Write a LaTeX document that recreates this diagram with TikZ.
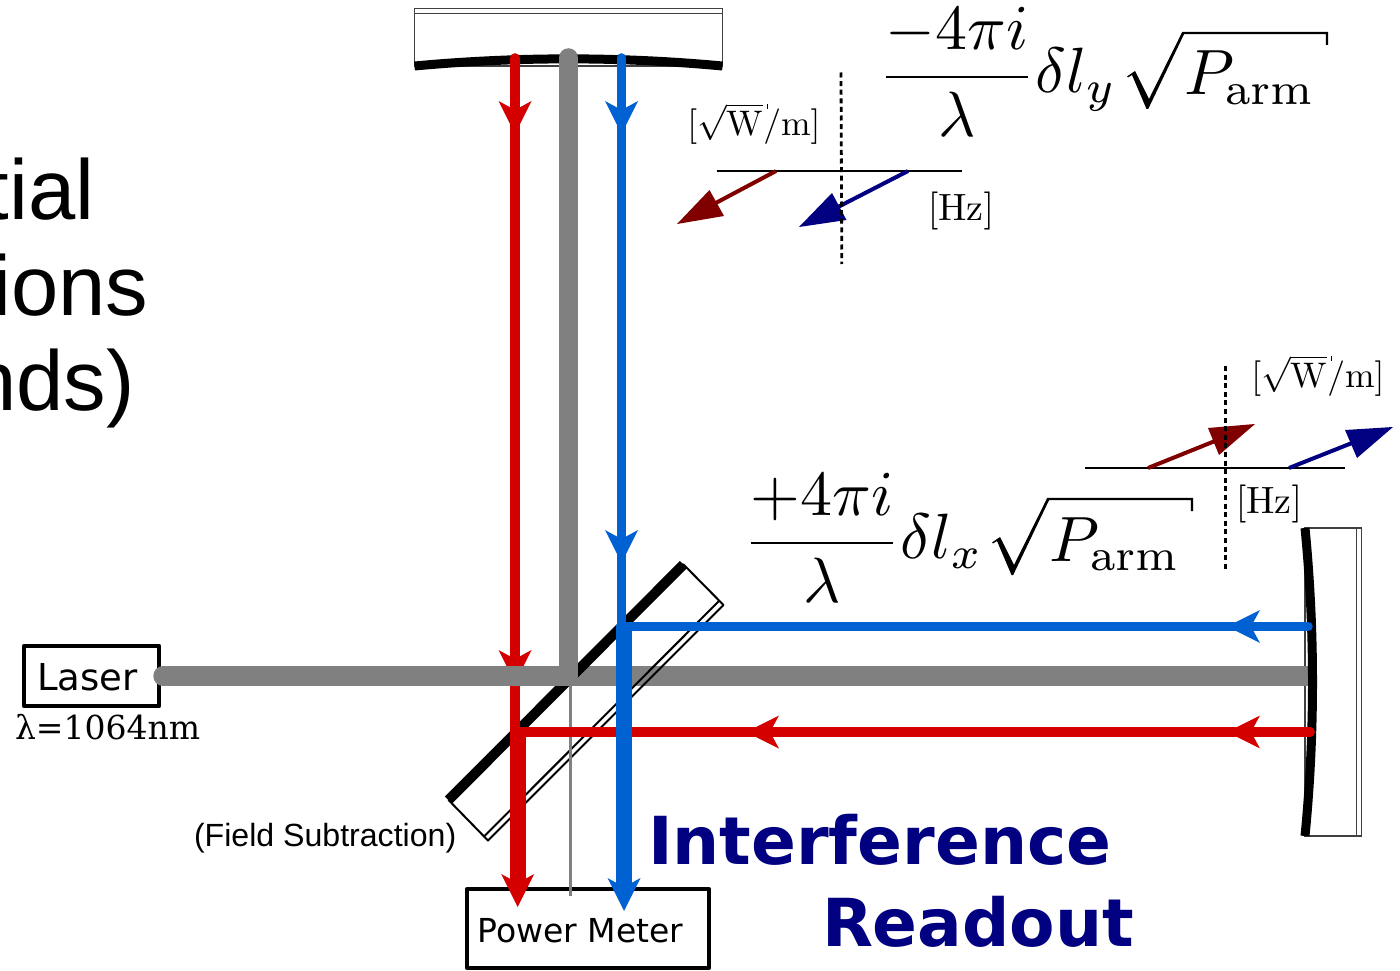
\documentclass[tikz,border=0pt]{standalone}
\usepackage{fontspec}
\usepackage{amsmath}
\newfontfamily\dejavu{DejaVu Sans}
\newfontfamily\dejaserif{DejaVu Serif}
\newfontfamily\libsans{Liberation Sans}
\definecolor{beamred}{HTML}{D40000}
\definecolor{beamblue}{HTML}{0062D2}
\definecolor{beamgray}{HTML}{808080}
\definecolor{darkred}{HTML}{800000}
\definecolor{darkblue}{HTML}{000080}
\newcommand{\ahead}[4]{\fill[#4,shift={(#1,#2)},rotate=#3] (0,0)--(-33,16.5)--(-24,0)--(-33,-16.5)--cycle;}
% radical sign with its overbar, hand drawn to the shape of the reference
\newcommand{\rootsign}[2]{\fill[black,shift={(#1,#2)}] (1127,76.5) -- (1135,71) -- (1149,99) -- (1182.3,31.8) -- (1328,31.8) -- (1328,45) -- (1325.8,45) -- (1325.8,34.2) -- (1184,34.2) -- (1148.2,109) -- (1146.5,109) -- (1132,75) -- (1128,77.5) -- cycle;}
\tikzset{
  txt/.style={inner sep=0pt,outer sep=0pt},
  bigtext/.style={txt,anchor=base east,font=\libsans\fontsize{85}{96}\selectfont},
  mathf/.style={txt,anchor=west,scale=6.4},
  matha/.style={txt,anchor=base west,scale=6.4},
  unitl/.style={txt,scale=3.55},
  hzl/.style={txt,scale=3.8},
  glassl/.style={draw=black!75,line width=1.4pt,fill=white},
  mirrorl/.style={draw=black,line width=9pt,line cap=butt},
  beam/.style={line width=9.6pt,line cap=round,line join=round},
  fatbeam/.style={line width=16pt,line cap=round},
  axisl/.style={draw=black,line width=1.3pt},
  dotl/.style={draw=black,line width=2.8pt,dash pattern=on 5pt off 3.6pt},
  boxn/.style={draw=black,fill=white,inner sep=0pt,line join=round},
  bluetext/.style={txt,anchor=base west,text=darkblue,font=\dejavu\bfseries\fontsize{66.2}{70}\selectfont},
}
\begin{document}
\begin{tikzpicture}[x=1pt,y=-1pt]
\useasboundingbox (0,0) rectangle (1400,971);
% background text
\node[bigtext] (t1) at (94.5,219) {tial};
\node[bigtext] (t2) at (148.5,315) {ions};
\node[bigtext] (t3) at (134.5,410) {nds)};
% top mirror
\draw[glassl] (414.5,8.5) rectangle (722.5,66);
\draw[glassl] (414.5,13.7) -- (722.5,13.7);
\draw[mirrorl] (414.5,66) .. controls (517,56.5) and (620,56.5) .. (722.5,66);
% end mirror
\draw[glassl] (1305,528) rectangle (1361.5,836);
\draw[glassl] (1356.7,528) -- (1356.7,836);
% named beam points
\coordinate (mirT-r) at (515,58);
\coordinate (mirT-g) at (568.5,58);
\coordinate (mirT-b) at (621.5,58);
\coordinate (bs-r) at (515,732);
\coordinate (bs-b) at (621.5,626.5);
\coordinate (bs-g) at (568.5,676);
\coordinate (mirE-r) at (1310,732);
\coordinate (mirE-g) at (1311,676);
\coordinate (mirE-b) at (1308,626.5);
\coordinate (las) at (163,676);
% beam splitter: gray arm runs through the glass, under its outlines
\fill[white] (448.5,800) -- (683.5,564.5) -- (723.5,605) -- (488,840.5) -- cycle;
\draw[beamgray,line width=19.5pt] (bs-g) -- (mirE-g);
\draw[draw=black,line width=2pt,line join=round] (448.5,800) -- (683.5,564.5) -- (723.5,605) -- (488,840.5) -- cycle;
\draw[draw=black,line width=2pt] (484,836.5) -- (719,601);
\draw[draw=black,line width=10pt] (448.5,800) -- (683.5,564.5);
% boxes
\node[boxn,line width=4.6pt,minimum width=135pt,minimum height=60pt] (laser) at (91.5,676) {};
\node[boxn,line width=4pt,minimum width=242pt,minimum height=79pt] (meter) at (588,928.5) {};
\node[txt,anchor=base,font=\dejavu\fontsize{37}{36}\selectfont] (lasertxt) at (87.5,690) {Laser};
\node[txt,anchor=base,font=\dejavu\fontsize{33}{36}\selectfont] (metertxt) at (580.5,942) {Power Meter};
% thin gray
\draw[beamgray,line width=3pt] (570,680) -- (570,896);
% red single beams
\draw[beam,beamred] (mirT-r) -- (bs-r);
\ahead{515}{134}{-90}{beamred}
\ahead{515}{683}{-90}{beamred}
\draw[beam,beamred] (bs-r) -- (mirE-r);
% gray pump
\draw[beamgray,line width=19.5pt,line cap=round,line join=round] (las) -- (bs-g) -- (mirT-g);
% end mirror curve over gray
\draw[mirrorl] (1305,528) .. controls (1315,630) and (1315,734) .. (1305,836);
\draw[beam,beamred] (1262,732) -- (mirE-r);
\ahead{1227}{732}{180}{beamred}
\ahead{746}{732}{180}{beamred}
% thick red
\draw[fatbeam,beamred,line cap=butt] (517.7,731) -- (517.7,890);
\ahead{517.7}{907}{-90}{beamred}
% blue
\draw[beam,beamblue] (mirT-b) -- (bs-b);
\ahead{621.5}{134}{-90}{beamblue}
\ahead{621.5}{563}{-90}{beamblue}
\draw[beam,beamblue] (bs-b) -- (mirE-b);
\ahead{1227}{626.5}{180}{beamblue}
\draw[fatbeam,beamblue,line cap=butt] (624,625) -- (624,890);
\ahead{624}{911}{-90}{beamblue}
% labels
\node[txt,anchor=base west,font=\libsans\fontsize{32.1}{36}\selectfont] (fieldtxt) at (194,846) {(Field Subtraction)};
\node[txt,anchor=base west,font=\dejaserif\fontsize{33}{36}\selectfont] (lambdatxt) at (15,739) {λ=1064nm};
\node[bluetext] (interf) at (648,864) {Interference};
\node[bluetext] (readout) at (822,946) {Readout};
% sidebands y
\draw[axisl] (716.5,171) -- (962,171);
\draw[darkred,line width=4pt] (776,171) -- (712,205);
\fill[darkred] (677,224) -- (709.5,190) -- (724,216) -- cycle;
\draw[darkblue,line width=4pt] (908,171) -- (836,208);
\fill[darkblue] (799,227) -- (832,193) -- (846.5,220) -- cycle;
\draw[dotl] (841,72.5) -- (841.8,264);
\node[unitl] (ul) at (754,124) {$[\sqrt{\mathrm{W}}/\mathrm{m}]$};
\draw[line width=1pt] (767,104) -- (767,109);
\node[hzl] (hl) at (961,210.5) {$[\mathrm{Hz}]$};
% sidebands x
\draw[axisl] (1085,468) -- (1345,468);
\draw[darkred,line width=4pt] (1148,468) -- (1215,441);
\fill[darkred] (1255,424) -- (1208,428) -- (1219,455) -- cycle;
\draw[darkblue,line width=4pt] (1289,468) -- (1352,443);
\fill[darkblue] (1393,427) -- (1345,430) -- (1357,458) -- cycle;
\draw[dotl] (1225.5,366) -- (1225.5,570);
\node[unitl] (ur) at (1318,376) {$[\sqrt{\mathrm{W}}/\mathrm{m}]$};
\draw[line width=1pt] (1331,356) -- (1331,361);
\node[hzl] (hr) at (1269,503.5) {$[\mathrm{Hz}]$};
% formulas
\node[mathf] (fy) at (878,72) {$\displaystyle\frac{-4\pi i}{\lambda}\delta l_y$};
\rootsign{0}{0}
\node[matha] (py) at (1184,95) {$P_{\mathrm{arm}}$};
\node[mathf] (fx) at (743,538) {$\displaystyle\frac{+4\pi i}{\lambda}\delta l_x$};
\rootsign{-135}{466}
\node[matha] (px) at (1049,561) {$P_{\mathrm{arm}}$};
\end{tikzpicture}
\end{document}
